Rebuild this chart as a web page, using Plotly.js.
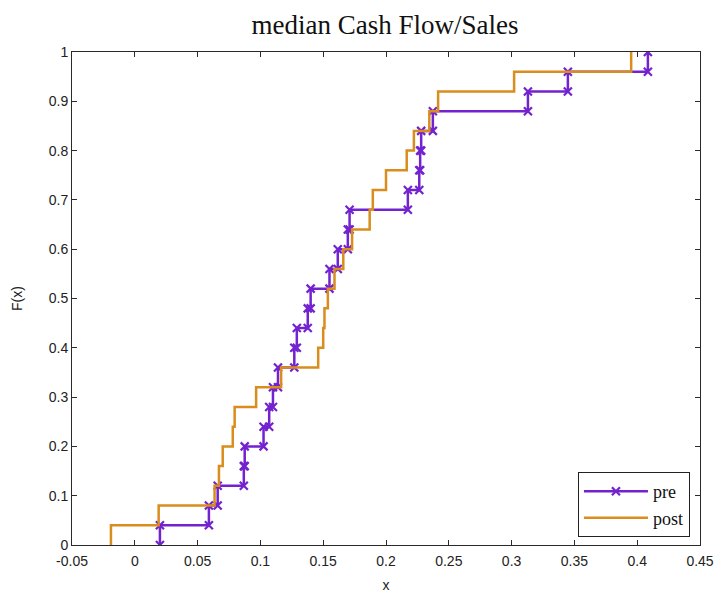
<!DOCTYPE html>
<html>
<head>
<meta charset="utf-8">
<script src="https://cdn.plot.ly/plotly-3.0.1.min.js"></script>
<style>
  html, body { margin: 0; padding: 0; background: #ffffff; }
  #chart { width: 721px; height: 594px; }
</style>
</head>
<body>
<div id="chart"></div>
<script>
// Sorted sample values of median Cash Flow/Sales, before and after
const preSample = [
  0.020, 0.059, 0.066, 0.0868, 0.0875, 0.1025, 0.107, 0.110, 0.114,
  0.127, 0.129, 0.1377, 0.140, 0.155, 0.1616, 0.1696, 0.171, 0.2174,
  0.2265, 0.2272, 0.228, 0.2373, 0.313, 0.3448, 0.4085
];
const postSample = [
  -0.019, 0.019, 0.0635, 0.067, 0.070, 0.078, 0.0795, 0.0966, 0.1165,
  0.146, 0.150, 0.151, 0.1537, 0.159, 0.166, 0.173, 0.187, 0.1895,
  0.200, 0.2165, 0.2222, 0.2345, 0.2415, 0.302, 0.3952
];

const xTickVals = [-0.05, 0, 0.05, 0.1, 0.15, 0.2, 0.25, 0.3, 0.35, 0.4, 0.45];
const xTickText = ['-0.05', '0', '0.05', '0.1', '0.15', '0.2', '0.25', '0.3', '0.35', '0.4', '0.45'];
const yTickVals = [0, 0.1, 0.2, 0.3, 0.4, 0.5, 0.6, 0.7, 0.8, 0.9, 1];
const yTickText = ['0', '0.1', '0.2', '0.3', '0.4', '0.5', '0.6', '0.7', '0.8', '0.9', '1'];

// Empirical CDF as a staircase: each sample gives a vertical jump from
// the previous level to the next one; both corners are vertices.
function ecdfStairs(sample) {
  const n = sample.length;
  const xs = [], ys = [];
  let prev = 0;
  sample.forEach((v, i) => {
    const level = (i + 1) / n;
    xs.push(v, v);
    ys.push(prev, level);
    prev = level;
  });
  return { x: xs, y: ys };
}

const preColor = '#7322cf';
const postColor = '#d98d1c';

const pre = ecdfStairs(preSample);
const post = ecdfStairs(postSample);

const traces = [
  {
    x: pre.x, y: pre.y, name: 'pre', type: 'scatter', mode: 'lines+markers',
    line: { color: preColor, width: 2.5 },
    marker: { symbol: 'x-thin', size: 8, color: preColor, line: { color: preColor, width: 2.2 } }
  },
  {
    x: post.x, y: post.y, name: 'post', type: 'scatter', mode: 'lines',
    line: { color: postColor, width: 2.5 }
  }
];

const axisCommon = {
  showline: true, linecolor: '#2a2a2a', linewidth: 1, mirror: 'ticks',
  ticks: 'inside', ticklen: 5, tickcolor: '#2a2a2a', tickwidth: 1,
  showgrid: false, zeroline: false, automargin: false,
  tickfont: { family: 'Liberation Sans, Arial, sans-serif', size: 14, color: '#222' }
};

const layout = {
  width: 721, height: 594,
  margin: { l: 72, r: 21, t: 52, b: 49 },
  paper_bgcolor: '#ffffff', plot_bgcolor: '#ffffff',
  title: {
    text: 'median Cash Flow/Sales',
    font: { family: 'Liberation Serif, Times New Roman, serif', size: 27, color: '#111' },
    x: 0.534, xanchor: 'center', y: 0.958, yanchor: 'middle', yref: 'container'
  },
  xaxis: Object.assign({}, axisCommon, {
    range: [-0.05, 0.45], tickmode: 'array', tickvals: xTickVals, ticktext: xTickText,
    ticklabelstandoff: 3,
    title: { text: 'x', standoff: 12, font: { family: 'Liberation Sans, Arial, sans-serif', size: 14, color: '#222' } }
  }),
  yaxis: Object.assign({}, axisCommon, {
    range: [0, 1], tickmode: 'array', tickvals: yTickVals, ticktext: yTickText,
    title: { text: 'F(x)', standoff: 22, font: { family: 'Liberation Sans, Arial, sans-serif', size: 14, color: '#222' } }
  }),
  showlegend: true,
  legend: {
    x: 0.984, xanchor: 'right', y: 0.016, yanchor: 'bottom',
    bgcolor: '#ffffff', bordercolor: '#222', borderwidth: 1,
    font: { family: 'Liberation Serif, Times New Roman, serif', size: 18, color: '#111' },
    itemwidth: 64, tracegroupgap: 0
  }
};

Plotly.newPlot('chart', traces, layout, { displayModeBar: false, staticPlot: true });
</script>
</body>
</html>
